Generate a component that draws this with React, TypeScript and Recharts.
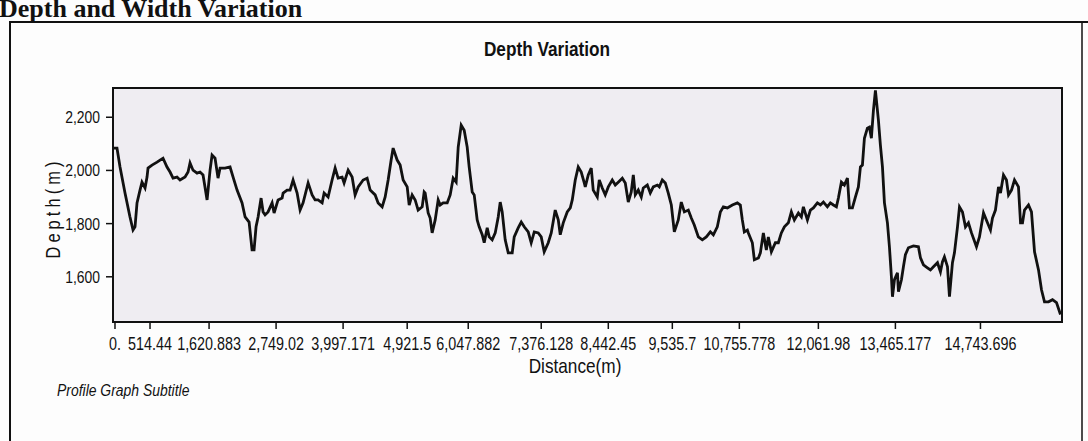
import { CartesianGrid, Line, LineChart, XAxis, YAxis } from "recharts";

// distance along profile (m)
const distance = [
    0, 68, 120, 205, 290, 342, 376, 410, 461, 495, 547, 581, 598, 666, 752, 803, 854, 922, 974, 1025,
    1093, 1144, 1230, 1281, 1315, 1366, 1435, 1486, 1537, 1606, 1657, 1691, 1742, 1793, 1828, 1913, 1998, 2050, 2118, 2203,
    2255, 2323, 2374, 2408, 2442, 2477, 2528, 2562, 2596, 2647, 2716, 2750, 2818, 2887, 2904, 2972, 3023, 3074, 3143, 3194,
    3245, 3331, 3399, 3450, 3501, 3570, 3604, 3672, 3740, 3792, 3843, 3911, 3945, 4014, 4082, 4133, 4185, 4270, 4338, 4390,
    4475, 4526, 4595, 4646, 4697, 4748, 4782, 4851, 4902, 4953, 5022, 5056, 5107, 5158, 5209, 5278, 5312, 5329, 5380, 5414,
    5448, 5500, 5551, 5585, 5636, 5705, 5756, 5807, 5858, 5893, 5944, 5995, 6046, 6080, 6132, 6166, 6217, 6251, 6303, 6337,
    6388, 6422, 6473, 6525, 6576, 6610, 6644, 6695, 6747, 6815, 6849, 6917, 6969, 7020, 7088, 7139, 7191, 7259, 7310, 7361,
    7430, 7481, 7549, 7601, 7635, 7686, 7754, 7806, 7840, 7891, 7942, 7993, 8045, 8062, 8113, 8164, 8198, 8267, 8301, 8352,
    8403, 8455, 8523, 8574, 8625, 8694, 8745, 8796, 8847, 8882, 8916, 8967, 9018, 9052, 9121, 9172, 9223, 9292, 9326, 9377,
    9428, 9479, 9531, 9582, 9650, 9701, 9753, 9821, 9872, 9923, 9992, 10060, 10128, 10197, 10248, 10316, 10368, 10419, 10487, 10573,
    10658, 10709, 10743, 10777, 10829, 10846, 10914, 10948, 11017, 11051, 11102, 11153, 11187, 11239, 11307, 11358, 11409, 11461, 11529, 11580,
    11631, 11700, 11751, 11785, 11854, 11905, 11956, 12024, 12076, 12127, 12195, 12246, 12298, 12349, 12383, 12434, 12485, 12537, 12571, 12622,
    12673, 12724, 12759, 12793, 12827, 12878, 12912, 12946, 12981, 13015, 13066, 13100, 13135, 13169, 13220, 13254, 13288, 13306, 13340, 13391,
    13408, 13459, 13493, 13527, 13578, 13664, 13749, 13784, 13835, 13903, 13954, 14006, 14074, 14125, 14159, 14193, 14245, 14279, 14330, 14364,
    14416, 14450, 14501, 14552, 14603, 14655, 14740, 14791, 14860, 14928, 14979, 15013, 15064, 15116, 15150, 15201, 15252, 15287, 15338, 15389,
    15457, 15492, 15526, 15560, 15628, 15679, 15731, 15799, 15850, 15901, 15970, 16038, 16106, 16174,
];

// depth (m) at each distance
const depth = [
    2084, 2084, 2013, 1915, 1825, 1776, 1788, 1878, 1926, 1956, 1934, 1975, 2009, 2020, 2031, 2039, 2046, 2013, 1994, 1971,
    1975, 1964, 1975, 1994, 2028, 2001, 1990, 1994, 1983, 1889, 2001, 2058, 2046, 1971, 2009, 2009, 2013, 1975, 1926, 1878,
    1825, 1806, 1701, 1701, 1788, 1825, 1896, 1844, 1833, 1844, 1878, 1840, 1889, 1896, 1915, 1926, 1926, 1964, 1915, 1851,
    1878, 1953, 1908, 1889, 1889, 1878, 1915, 1900, 1964, 2009, 1971, 1975, 1953, 2001, 1975, 1908, 1938, 1964, 1971, 1926,
    1908, 1878, 1863, 1900, 1964, 2039, 2084, 2039, 2020, 1964, 1938, 1870, 1908, 1889, 1851, 1863, 1919, 1915, 1840, 1821,
    1765, 1814, 1889, 1870, 1878, 1878, 1908, 1971, 1956, 2088, 2170, 2151, 2088, 2013, 1919, 1908, 1814, 1788, 1758, 1728,
    1784, 1750, 1739, 1765, 1825, 1881, 1844, 1739, 1690, 1690, 1750, 1784, 1806, 1788, 1769, 1728, 1769, 1765, 1750, 1694,
    1728, 1765, 1851, 1814, 1758, 1803, 1844, 1859, 1889, 1964, 2013, 1994, 1953, 1938, 1983, 2009, 1926, 1900, 1964, 1934,
    1908, 1938, 1964, 1945, 1956, 1971, 1953, 1881, 1919, 1983, 1908, 1926, 1900, 1934, 1945, 1915, 1938, 1945, 1938, 1964,
    1953, 1915, 1870, 1769, 1814, 1881, 1844, 1851, 1821, 1795, 1750, 1739, 1750, 1769, 1758, 1788, 1844, 1863, 1859, 1870,
    1878, 1870, 1814, 1769, 1776, 1765, 1728, 1664, 1671, 1690, 1765, 1701, 1750, 1694, 1728, 1728, 1765, 1788, 1803, 1844,
    1814, 1840, 1825, 1863, 1814, 1851, 1859, 1878, 1870, 1881, 1863, 1878, 1870, 1863, 1896, 1956, 1945, 1971, 1859, 1859,
    1900, 1938, 2013, 2020, 2121, 2159, 2163, 2121, 2226, 2301, 2189, 2095, 2013, 1878, 1803, 1713, 1600, 1525, 1589, 1615,
    1544, 1589, 1638, 1683, 1709, 1716, 1713, 1671, 1645, 1634, 1626, 1638, 1653, 1619, 1656, 1675, 1638, 1525, 1653, 1690,
    1788, 1863, 1844, 1788, 1803, 1765, 1713, 1750, 1840, 1803, 1776, 1821, 1851, 1938, 1915, 1983, 1964, 1908, 1926, 1964,
    1938, 1803, 1803, 1851, 1870, 1844, 1694, 1626, 1551, 1506, 1506, 1514, 1503, 1458,
];

// where the tick marks sit on the scan (the source axis is not quite linear),
// and the distances printed under them
const xTicks = [34, 632, 1640, 2784, 3928, 5022, 6064, 7310, 8455, 9548, 10692, 12041, 13356, 14808];
const xTickLabels = ["0.", "514.44", "1,620.883", "2,749.02", "3,997.171", "4,921.5", "6,047.882", "7,376.128", "8,442.45", "9,535.7", "10,755.778", "12,061.98", "13,465.177", "14,743.696"];
const yTicks = [1600, 1800, 2000, 2200];
const yTickLabels = ["1,600", "1,800", "2,000", "2,200"];

// no narrow font installed, so squeeze Liberation Sans horizontally
const SANS = '"Liberation Sans", Arial, sans-serif';
const SQUEEZE = 0.82;

const rows = distance.map((d, i) => ({ distance: d, depth: depth[i] }));

const XTick = ({ x, y, payload }: any) => (
    <g transform={`translate(${x},${y + 19})`}>
        <text transform={`scale(${SQUEEZE},1)`} textAnchor="middle" fontFamily={SANS} fontSize={17.5} fill="#111">
            {xTickLabels[xTicks.indexOf(payload.value)]}
        </text>
    </g>
);

const YTick = ({ x, y, payload }: any) => (
    <g transform={`translate(${x - 4},${y + 6})`}>
        <text transform={`scale(${SQUEEZE},1)`} textAnchor="end" fontFamily={SANS} fontSize={17} fill="#111">
            {yTickLabels[yTicks.indexOf(payload.value)]}
        </text>
    </g>
);

const Narrow = ({ x, y, rotate = 0, anchor = "start", children, ...rest }: any) => (
    <g transform={`translate(${x},${y}) rotate(${rotate})`}>
        <text transform={`scale(${SQUEEZE},1)`} textAnchor={anchor} fontFamily={SANS} fill="#111" {...rest}>
            {children}
        </text>
    </g>
);

const App = () => {
    return (
        <div style={{ position: "absolute", left: 0, top: 0, width: 1088, height: 441, background: "#fdfdfd", overflow: "hidden" }}>
            <LineChart
                width={1088}
                height={441}
                data={rows}
                margin={{ top: 88, right: 26, bottom: 89, left: 53 }}
            >
                <CartesianGrid horizontal={false} vertical={false} fill="#efedf2" />
                <XAxis
                    type="number"
                    dataKey="distance"
                    domain={[0, 16200]}
                    ticks={xTicks}
                    interval={0}
                    axisLine={false}
                    tickLine={{ stroke: "#111", strokeWidth: 1.5 }}
                    tickSize={7}
                    height={30}
                    tick={<XTick />}
                />
                <YAxis
                    type="number"
                    domain={[1430, 2310]}
                    ticks={yTicks}
                    interval={0}
                    axisLine={false}
                    tickLine={{ stroke: "#111", strokeWidth: 1.5 }}
                    tickSize={7}
                    width={60}
                    tick={<YTick />}
                />
                <Line
                    type="linear"
                    dataKey="depth"
                    stroke="#111"
                    strokeWidth={2.8}
                    dot={false}
                    isAnimationActive={false}
                />
            </LineChart>
            <svg width={1088} height={441} style={{ position: "absolute", left: 0, top: 0, pointerEvents: "none" }}>
                <text x={-1} y={17} fontFamily='"Liberation Serif", serif' fontWeight="bold" fontSize={26} fill="#111">
                    Depth and Width Variation
                </text>
                <line x1={9} y1={22} x2={1088} y2={22} stroke="#111" strokeWidth={2} />
                <line x1={10} y1={22} x2={10} y2={441} stroke="#111" strokeWidth={2} />
                <line x1={1082} y1={22} x2={1082} y2={441} stroke="#111" strokeWidth={1.5} />
                <rect x={113} y={88} width={949} height={234} fill="none" stroke="#111" strokeWidth={2} />
                <Narrow x={547} y={56} anchor="middle" fontWeight="bold" fontSize={21}>
                    Depth Variation
                </Narrow>
                <Narrow x={60} y={208} rotate={-90} anchor="middle" fontSize={20} letterSpacing={5}>
                    Depth(m)
                </Narrow>
                <Narrow x={575} y={373} anchor="middle" fontSize={21}>
                    Distance(m)
                </Narrow>
                <Narrow x={57} y={396} fontStyle="italic" fontSize={17}>
                    Profile Graph Subtitle
                </Narrow>
            </svg>
        </div>
    );
};

export default App;
